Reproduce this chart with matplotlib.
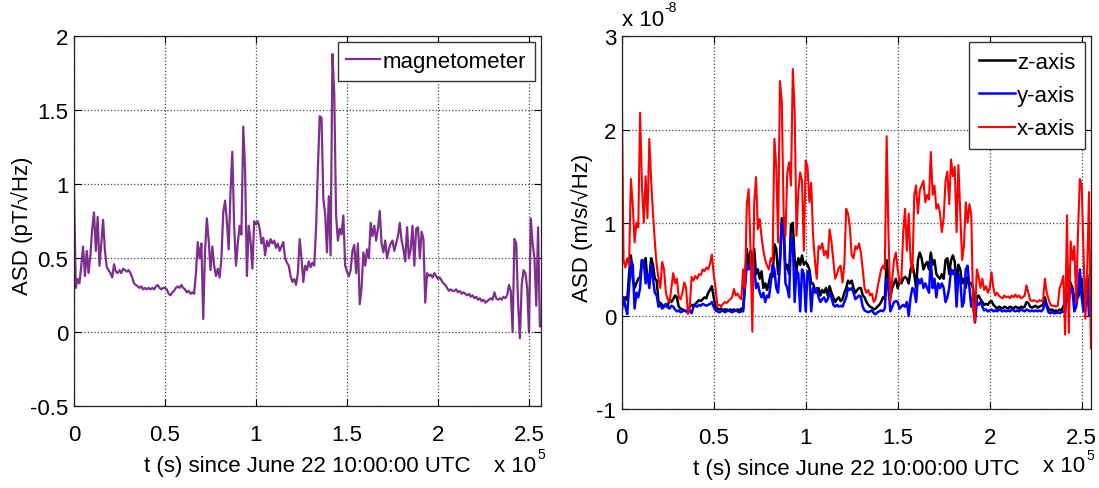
import numpy as np
import matplotlib
matplotlib.use('Agg')
import matplotlib.pyplot as plt

plt.rcParams['font.family'] = ['Liberation Sans', 'DejaVu Sans']

# time axis in units of 1e5 s, one sample every 1000 s
t = np.round(np.arange(257) * 0.01, 2)

# magnetometer ASD (pT/sqrt(Hz))
magnetometer = [
    0.96, 0.30, 0.36, 0.33, 0.45, 0.58, 0.38, 0.55, 0.40, 0.52,
    0.70, 0.81, 0.55, 0.78, 0.45, 0.60, 0.76, 0.55, 0.44, 0.42,
    0.40, 0.37, 0.46, 0.41, 0.40, 0.42, 0.40, 0.43, 0.42, 0.41,
    0.42, 0.40, 0.37, 0.33, 0.32, 0.31, 0.30, 0.31, 0.29, 0.30,
    0.29, 0.30, 0.29, 0.30, 0.29, 0.31, 0.32, 0.30, 0.29, 0.30,
    0.30, 0.29, 0.26, 0.25, 0.27, 0.28, 0.30, 0.31, 0.30, 0.32,
    0.30, 0.29, 0.27, 0.28, 0.26, 0.27, 0.26, 0.40, 0.61, 0.50,
    0.60, 0.09, 0.55, 0.77, 0.62, 0.42, 0.58, 0.45, 0.38, 0.43,
    0.37, 0.50, 0.81, 0.89, 0.75, 0.56, 0.95, 1.22, 0.72, 0.45,
    0.60, 0.72, 0.66, 1.39, 1.10, 0.38, 0.72, 0.62, 0.43, 0.75,
    0.73, 0.75, 0.70, 0.60, 0.64, 0.52, 0.62, 0.58, 0.63, 0.60,
    0.62, 0.57, 0.60, 0.55, 0.58, 0.61, 0.50, 0.47, 0.45, 0.38,
    0.34, 0.36, 0.32, 0.40, 0.63, 0.50, 0.34, 0.45, 0.42, 0.48,
    0.44, 0.47, 0.45, 0.70, 1.10, 1.46, 1.45, 0.90, 0.80, 0.54,
    0.92, 0.52, 1.88, 1.62, 0.79, 0.62, 0.70, 0.66, 0.79, 0.45,
    0.41, 0.38, 0.42, 0.55, 0.59, 0.40, 0.60, 0.19, 0.30, 0.54,
    0.45, 0.56, 0.50, 0.74, 0.65, 0.72, 0.62, 0.70, 0.82, 0.60,
    0.54, 0.62, 0.50, 0.56, 0.60, 0.62, 0.55, 0.60, 0.65, 0.74,
    0.62, 0.56, 0.48, 0.71, 0.50, 0.56, 0.72, 0.45, 0.70, 0.71,
    0.50, 0.68, 0.63, 0.20, 0.40, 0.38, 0.39, 0.37, 0.40, 0.38,
    0.36, 0.37, 0.35, 0.33, 0.32, 0.30, 0.28, 0.29, 0.28, 0.28,
    0.29, 0.27, 0.28, 0.26, 0.27, 0.26, 0.25, 0.26, 0.24, 0.25,
    0.23, 0.24, 0.22, 0.23, 0.21, 0.22, 0.20, 0.21, 0.22, 0.23,
    0.22, 0.27, 0.23, 0.22, 0.23, 0.22, 0.24, 0.23, 0.25, 0.32,
    0.28, 0.00, 0.63, 0.60, 0.20, -0.04, 0.32, 0.42, 0.40, 0.30,
    0.00, 0.77, 0.60, 0.50, 0.18, 0.71, 0.04,
]

# seismometer ASD (1e-8 m/s/sqrt(Hz))
z_axis = [
    0.18, 0.15, 0.20, 0.17, 0.45, 0.65, 0.40, 0.30, 0.35, 0.40,
    0.42, 0.60, 0.55, 0.62, 0.38, 0.40, 0.62, 0.55, 0.40, 0.38,
    0.15, 0.14, 0.12, 0.10, 0.11, 0.10, 0.18, 0.15, 0.18, 0.22,
    0.20, 0.10, 0.08, 0.07, 0.06, 0.05, 0.06, 0.10, 0.12, 0.11,
    0.13, 0.15, 0.17, 0.16, 0.18, 0.20, 0.19, 0.25, 0.28, 0.32,
    0.20, 0.10, 0.08, 0.07, 0.08, 0.06, 0.07, 0.07, 0.06, 0.07,
    0.06, 0.07, 0.06, 0.07, 0.06, 0.08, 0.07, 0.40, 0.72, 0.55,
    0.70, 0.55, 0.72, 0.45, 0.50, 0.40, 0.48, 0.30, 0.35, 0.28,
    0.36, 0.45, 0.42, 0.77, 0.72, 0.45, 0.60, 1.05, 1.00, 0.50,
    0.55, 0.45, 0.98, 1.00, 0.60, 0.50, 0.62, 0.55, 0.65, 0.55,
    0.58, 0.55, 0.50, 0.35, 0.35, 0.28, 0.25, 0.30, 0.22, 0.28,
    0.25, 0.30, 0.22, 0.32, 0.25, 0.20, 0.15, 0.18, 0.20, 0.16,
    0.18, 0.25, 0.30, 0.38, 0.35, 0.38, 0.30, 0.25, 0.28, 0.30,
    0.30, 0.22, 0.20, 0.15, 0.12, 0.10, 0.09, 0.07, 0.08, 0.10,
    0.12, 0.15, 0.20, 0.18, 0.60, 0.40, 0.20, 0.30, 0.35, 0.40,
    0.30, 0.38, 0.35, 0.40, 0.42, 0.40, 0.35, 0.50, 0.55, 0.45,
    0.30, 0.60, 0.68, 0.62, 0.50, 0.55, 0.58, 0.50, 0.68, 0.55,
    0.60, 0.45, 0.42, 0.40, 0.45, 0.40, 0.60, 0.62, 0.45, 0.60,
    0.65, 0.58, 0.35, 0.55, 0.50, 0.35, 0.40, 0.30, 0.42, 0.35,
    0.35, 0.30, 0.00, 0.20, 0.22, 0.18, 0.15, 0.12, 0.13, 0.12,
    0.15, 0.16, 0.12, 0.10, 0.08, 0.10, 0.09, 0.08, 0.10, 0.09,
    0.08, 0.10, 0.09, 0.08, 0.10, 0.09, 0.08, 0.10, 0.09, 0.10,
    0.15, 0.14, 0.10, 0.09, 0.10, 0.11, 0.09, 0.10, 0.11, 0.12,
    0.20, 0.12, 0.08, 0.06, 0.07, 0.05, 0.06, 0.05, 0.07, 0.06,
    0.10, 0.15, 0.55, 0.40, 0.35, 0.30, 0.15, 0.25, 0.20, 0.25,
    0.40, 0.12, 0.20, 0.45, 0.10, 0.10, 0.15,
]

y_axis = [
    0.05, 0.20, 0.10, 0.02, 0.30, 0.60, 0.55, 0.08, 0.25, 0.20,
    0.30, 0.60, 0.58, 0.35, 0.45, 0.30, 0.55, 0.40, 0.25, 0.22,
    0.10, 0.12, 0.08, 0.10, 0.13, 0.09, 0.08, 0.11, 0.10, 0.07,
    0.05, 0.06, 0.04, 0.05, 0.06, 0.05, 0.04, 0.06, 0.03, 0.10,
    0.11, 0.10, 0.12, 0.11, 0.13, 0.12, 0.11, 0.12, 0.13, 0.15,
    0.10, 0.06, 0.05, 0.04, 0.05, 0.06, 0.04, 0.05, 0.06, 0.05,
    0.04, 0.05, 0.06, 0.05, 0.04, 0.05, 0.05, 0.30, 0.55, 0.50,
    0.55, 0.40, 0.55, 0.30, 0.35, 0.25, 0.20, 0.25, 0.15, 0.22,
    0.20, 0.35, 0.55, 0.50, 0.30, 0.25, 0.55, 1.00, 0.95, 0.35,
    0.30, 0.20, 0.85, 0.80, 0.15, 0.50, 0.45, 0.05, 0.50, 0.45,
    0.05, 0.48, 0.45, 0.05, 0.30, 0.25, 0.30, 0.20, 0.15, 0.18,
    0.20, 0.15, 0.18, 0.25, 0.20, 0.12, 0.10, 0.12, 0.10, 0.11,
    0.10, 0.15, 0.20, 0.30, 0.28, 0.30, 0.25, 0.18, 0.20, 0.22,
    0.20, 0.10, 0.06, 0.05, 0.04, 0.05, 0.06, 0.03, 0.02, 0.04,
    0.05, 0.06, 0.05, 0.08, 0.40, 0.30, 0.05, 0.10, 0.15, 0.16,
    0.15, 0.08, 0.10, 0.12, 0.10, 0.15, 0.00, 0.20, 0.30, 0.28,
    0.15, 0.40, 0.35, 0.40, 0.30, 0.35, 0.30, 0.25, 0.60, 0.30,
    0.40, 0.20, 0.35, 0.30, 0.35, 0.30, 0.15, 0.20, 0.30, 0.50,
    0.45, 0.50, 0.10, 0.45, 0.40, 0.10, 0.15, 0.50, 0.54, 0.30,
    0.10, 0.20, -0.07, 0.15, 0.12, 0.15, 0.10, 0.06, 0.07, 0.05,
    0.06, 0.07, 0.05, 0.06, 0.05, 0.07, 0.06, 0.05, 0.06, 0.05,
    0.06, 0.05, 0.07, 0.06, 0.05, 0.06, 0.05, 0.07, 0.06, 0.05,
    0.07, 0.06, 0.05, 0.06, 0.05, 0.06, 0.05, 0.06, 0.05, 0.07,
    0.15, 0.10, 0.04, 0.03, 0.04, 0.03, 0.03, 0.04, 0.03, 0.04,
    0.05, 0.04, 0.25, 0.15, 0.30, 0.28, 0.05, 0.10, 0.25, 0.50,
    0.20, 0.05, 0.06, 0.40, 0.00, 0.10, 0.05,
]

x_axis = [
    2.47, 0.60, 0.52, 0.62, 0.55, 1.47, 1.20, 0.79, 1.00, 0.95,
    2.18, 1.40, 1.00, 1.50, 1.05, 1.90, 1.45, 1.10, 0.80, 0.55,
    0.40, 0.30, 0.58, 0.50, 0.25, 0.18, 0.15, 0.30, 0.46, 0.35,
    0.40, 0.20, 0.18, 0.25, 0.36, 0.30, 0.02, 0.10, 0.42, 0.38,
    0.43, 0.40, 0.45, 0.44, 0.50, 0.48, 0.52, 0.50, 0.56, 0.66,
    0.45, 0.30, 0.11, 0.12, 0.10, 0.13, 0.15, 0.14, 0.16, 0.18,
    0.20, 0.29, 0.22, 0.24, 0.20, 0.18, 0.50, 0.30, 1.20, 1.36,
    0.72, -0.17, 1.20, 1.49, 0.93, 1.04, 0.85, 0.70, 0.60, 0.54,
    0.50, 0.62, 0.58, 1.90, 1.60, 0.79, 2.52, 2.30, 1.10, 0.86,
    1.54, 1.65, 1.40, 2.65, 2.20, 0.86, 1.33, 1.54, 1.45, 0.70,
    1.67, 1.60, 1.22, 1.43, 0.86, 0.60, 0.40, 0.75, 0.72, 0.78,
    0.65, 0.70, 0.62, 0.93, 0.80, 0.60, 0.40, 0.45, 0.52, 0.54,
    0.36, 0.55, 1.15, 1.10, 0.95, 0.65, 0.62, 0.75, 0.72, 0.78,
    0.68, 0.50, 0.30, 0.25, 0.28, 0.22, 0.24, 0.15, 0.18, 0.30,
    0.40, 0.50, 0.54, 0.50, 1.93, 0.86, 0.15, 0.40, 0.60, 0.68,
    0.50, 0.36, 0.40, 0.90, 1.15, 0.70, 1.10, 0.60, 0.47, 1.30,
    1.40, 1.10, 1.35, 1.40, 1.45, 1.22, 1.30, 1.25, 1.76, 1.30,
    1.40, 1.15, 1.20, 1.10, 0.90, 1.05, 1.45, 1.55, 1.20, 1.68,
    1.50, 1.60, 0.90, 1.62, 1.10, 0.60, 0.75, 1.22, 1.00, 1.20,
    1.08, 0.07, -0.07, 0.50, 0.42, 0.30, 0.40, 0.28, 0.32, 0.25,
    0.30, 0.47, 0.30, 0.22, 0.25, 0.22, 0.20, 0.19, 0.22, 0.20,
    0.21, 0.19, 0.22, 0.20, 0.23, 0.20, 0.22, 0.19, 0.20, 0.22,
    0.33, 0.25, 0.17, 0.16, 0.17, 0.16, 0.15, 0.17, 0.16, 0.17,
    0.40, 0.25, 0.18, 0.12, 0.11, 0.11, 0.10, 0.11, 0.30, 0.35,
    0.43, -0.20, 1.08, -0.18, 0.80, 0.60, 0.75, 0.15, 0.90, 1.47,
    1.40, 0.70, -0.03, 0.50, 1.33, -0.35, 0.40,
]

xticks = [0, 0.5, 1, 1.5, 2, 2.5]
xticklabels = ['0', '0.5', '1', '1.5', '2', '2.5']
xlabel = 't (s) since June 22 10:00:00 UTC'

fs = 16
W, H = 1099, 489
fig = plt.figure(figsize=(W / 100, H / 100), dpi=100)


def style_axes(ax):
    ax.grid(True, linestyle=':', color='#444444', linewidth=0.9)
    ax.tick_params(direction='in', length=5, width=0.8, top=True, right=True,
                   labelsize=fs, pad=4)
    ax.tick_params(axis='x', pad=13)
    for sp in ax.spines.values():
        sp.set_linewidth(0.9)
        sp.set_color('#222222')
    ax.set_xticks(xticks)
    ax.set_xticklabels(xticklabels)
    ax.set_xlabel(xlabel, fontsize=fs, labelpad=7)


def style_legend(leg):
    leg.get_frame().set_edgecolor('#333333')
    leg.get_frame().set_linewidth(1.0)


# left panel: magnetometer
ax1 = fig.add_axes([74 / W, 1 - 407.3 / H, 467 / W, 370 / H])
ax1.plot(t, magnetometer, color='#7E2F8E', linewidth=1.6, label='magnetometer')
ax1.set_xlim(0, 2.566)
ax1.set_ylim(-0.5, 2)
ax1.set_yticks([-0.5, 0, 0.5, 1, 1.5, 2])
ax1.set_yticklabels(['-0.5', '0', '0.5', '1', '1.5', '2'])
ax1.set_ylabel('ASD (pT/\u221aHz)', fontsize=fs)
ax1.yaxis.set_label_coords(-0.088, 0.49)
style_axes(ax1)
leg1 = ax1.legend(loc='upper right', fontsize=fs, handlelength=1.5,
                  handletextpad=0.15, borderaxespad=0.25, fancybox=False,
                  framealpha=1, borderpad=0.4)
style_legend(leg1)

# right panel: seismometer
ax2 = fig.add_axes([621.7 / W, 1 - 410.2 / H, 469 / W, 372.8 / H])
ax2.plot(t, z_axis, color='black', linewidth=1.8, label='z-axis')
ax2.plot(t, y_axis, color='#0000FF', linewidth=1.8, label='y-axis')
ax2.plot(t, x_axis, color='#FF0000', linewidth=1.5, label='x-axis')
ax2.set_xlim(0, 2.549)
ax2.set_ylim(-1, 3)
ax2.set_yticks([-1, 0, 1, 2, 3])
ax2.set_yticklabels(['-1', '0', '1', '2', '3'])
ax2.set_ylabel('ASD (m/s/\u221aHz)', fontsize=fs)
ax2.yaxis.set_label_coords(-0.061, 0.49)
style_axes(ax2)
leg2 = ax2.legend(loc='upper right', fontsize=fs, handlelength=1.6,
                  handletextpad=0.1, borderaxespad=0.25, fancybox=False,
                  framealpha=1, borderpad=0.45, labelspacing=0.55)
style_legend(leg2)

# exponent labels (matlab style)
fig.text(536 / W, 1 - 467 / H, 'x 10', fontsize=fs, ha='right', va='center')
fig.text(537 / W, 1 - 455 / H, '5', fontsize=10, ha='left', va='center')
fig.text(1085 / W, 1 - 467 / H, 'x 10', fontsize=fs, ha='right', va='center')
fig.text(1086 / W, 1 - 456 / H, '5', fontsize=10, ha='left', va='center')
fig.text(622 / W, 1 - 20 / H, 'x 10', fontsize=fs, ha='left', va='center')
fig.text(664 / W, 1 - 8 / H, '-8', fontsize=10, ha='left', va='center')

fig.savefig('out.png', dpi=100)
